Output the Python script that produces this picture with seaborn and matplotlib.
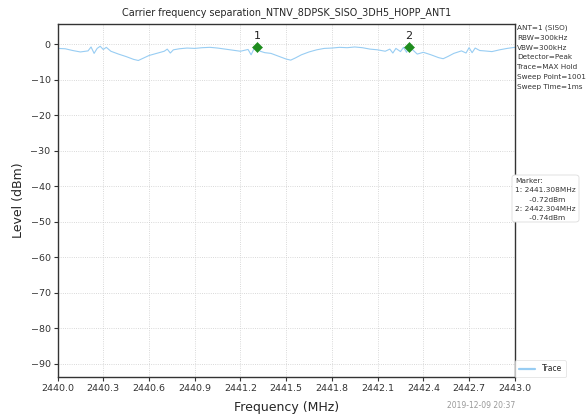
import numpy as np
import pandas as pd
import matplotlib
matplotlib.use("Agg")
import matplotlib.pyplot as plt
from matplotlib.patches import FancyBboxPatch
import seaborn as sns

# Spectrum trace (MAX Hold), frequency in MHz and level in dBm
freq_mhz = [
    2440.00, 2440.05, 2440.10, 2440.15, 2440.20, 2440.22, 2440.24, 2440.26, 2440.28, 2440.30,
    2440.32, 2440.35, 2440.40, 2440.45, 2440.50, 2440.53, 2440.56, 2440.60, 2440.65, 2440.70,
    2440.72, 2440.74, 2440.76, 2440.80, 2440.85, 2440.90, 2440.95, 2441.00, 2441.05, 2441.10,
    2441.15, 2441.20, 2441.25, 2441.27, 2441.29, 2441.308, 2441.33, 2441.36, 2441.40, 2441.45,
    2441.50, 2441.53, 2441.56, 2441.60, 2441.65, 2441.70, 2441.75, 2441.80, 2441.85, 2441.90,
    2441.95, 2442.00, 2442.05, 2442.10, 2442.15, 2442.18, 2442.20, 2442.22, 2442.25, 2442.27,
    2442.29, 2442.304, 2442.33, 2442.36, 2442.40, 2442.45, 2442.50, 2442.53, 2442.56, 2442.60,
    2442.65, 2442.68, 2442.70, 2442.72, 2442.74, 2442.77, 2442.80, 2442.85, 2442.90, 2442.95,
    2443.00,
]
level_dbm = [
    -1.2, -1.3, -1.8, -2.2, -1.9, -0.8, -2.6, -1.2, -0.6, -1.5,
    -0.9, -2.0, -2.8, -3.5, -4.3, -4.6, -4.0, -3.2, -2.6, -2.0,
    -1.4, -2.5, -1.6, -1.3, -1.1, -1.2, -1.0, -0.9, -1.1, -1.4,
    -1.7, -2.0, -1.5, -3.0, -1.2, -0.72, -2.0, -2.4, -2.6, -3.4,
    -4.2, -4.5, -3.9, -3.0, -2.2, -1.6, -1.2, -1.1, -0.9, -1.0,
    -0.8, -1.0, -1.4, -1.6, -2.0, -1.4, -2.5, -1.2, -2.1, -0.9,
    -2.3, -0.74, -1.6, -2.8, -2.3, -3.0, -3.8, -4.1, -3.5, -2.6,
    -1.9, -2.5, -1.0, -2.4, -1.1, -1.8, -1.9, -2.1, -1.6, -1.2,
    -0.9,
]

# Markers
marker_labels = ["1", "2"]
marker_freq = [2441.308, 2442.304]
marker_level = [-0.72, -0.74]

# Axis ticks
x_ticks = [2440.0, 2440.3, 2440.6, 2440.9, 2441.2, 2441.5, 2441.8, 2442.1, 2442.4, 2442.7, 2443.0]
y_ticks = [0, -10, -20, -30, -40, -50, -60, -70, -80, -90]

settings_text = ["ANT=1 (SISO)", "RBW=300kHz", "VBW=300kHz", "Detector=Peak",
                 "Trace=MAX Hold", "Sweep Point=1001", "Sweep Time=1ms"]
marker_text = ["Marker:", "1: 2441.308MHz", "      -0.72dBm",
               "2: 2442.304MHz", "      -0.74dBm"]

sns.set_style("white")
plt.rcParams["font.family"] = ["DejaVu Sans"]

W, H = 587, 419
fig = plt.figure(figsize=(W / 100, H / 100), dpi=100)
ax = fig.add_axes([0.098, 0.100, 0.779, 0.843])

trace = pd.DataFrame({"freq": freq_mhz, "level": level_dbm})
sns.lineplot(data=trace, x="freq", y="level", ax=ax, color="#98cdf3",
             linewidth=0.8, label="Trace", sort=False)

mk = pd.DataFrame({"freq": marker_freq, "level": marker_level})
sns.scatterplot(data=mk, x="freq", y="level", ax=ax, marker="D", color="#1e8c1e",
                s=26, edgecolor="#1e8c1e", zorder=5, legend=False)
for lab, fx, ly in zip(marker_labels, marker_freq, marker_level):
    ax.text(fx, ly + 1.7, lab, ha="center", va="bottom", fontsize=8, color="#222222")

ax.set_xlim(2440.0, 2443.0)
ax.set_ylim(-93.7, 5.7)
ax.set_xticks(x_ticks)
ax.set_xticklabels([f"{t:.1f}" for t in x_ticks])
ax.set_yticks(y_ticks)
ax.set_yticklabels([str(t).replace("-", "\u2212") for t in y_ticks])
ax.tick_params(axis="both", labelsize=6.8, length=3, width=0.8, color="#333333",
               labelcolor="#333333", direction="out", bottom=True, left=True, pad=2)
ax.grid(True, linestyle=":", linewidth=0.6, color="#cccccc")
for s in ax.spines.values():
    s.set_color("#333333")
    s.set_linewidth(1.0)

ax.set_title("Carrier frequency separation_NTNV_8DPSK_SISO_3DH5_HOPP_ANT1",
             fontsize=6.9, pad=6)
ax.set_xlabel("Frequency (MHz)", fontsize=9, labelpad=6)
ax.set_ylabel("Level (dBm)", fontsize=9, labelpad=4)

leg = ax.legend(loc="lower left", bbox_to_anchor=(1.0, 0.0), fontsize=5.5,
                frameon=True, handlelength=2.2, borderpad=0.5, fancybox=True,
                borderaxespad=0.0)
leg.get_frame().set_edgecolor("#dddddd")
leg.get_frame().set_linewidth(0.6)
for h in leg.get_lines():
    h.set_linewidth(1.6)

# Instrument settings, one line at a time
for i, line in enumerate(settings_text):
    fig.text(517 / W, 1 - (28 + 9.8 * i) / H, line, fontsize=5.2, color="#333333",
             va="center", ha="left")

# Marker readout box
fig.patches.append(FancyBboxPatch((512 / W, 1 - 222 / H), 67 / W, 47 / H,
                                  boxstyle="round,pad=0.0,rounding_size=0.006",
                                  transform=fig.transFigure, facecolor="white",
                                  edgecolor="#dddddd", linewidth=0.6, zorder=1))
for i, line in enumerate(marker_text):
    fig.text(515 / W, 1 - (181 + 9.25 * i) / H, line, fontsize=5.3, color="#333333",
             va="center", ha="left", zorder=2)

fig.text(0.877, 0.022, "2019-12-09 20:37", fontsize=5.5, color="#999999",
         ha="right", va="bottom")

fig.savefig("out.png", dpi=100)
